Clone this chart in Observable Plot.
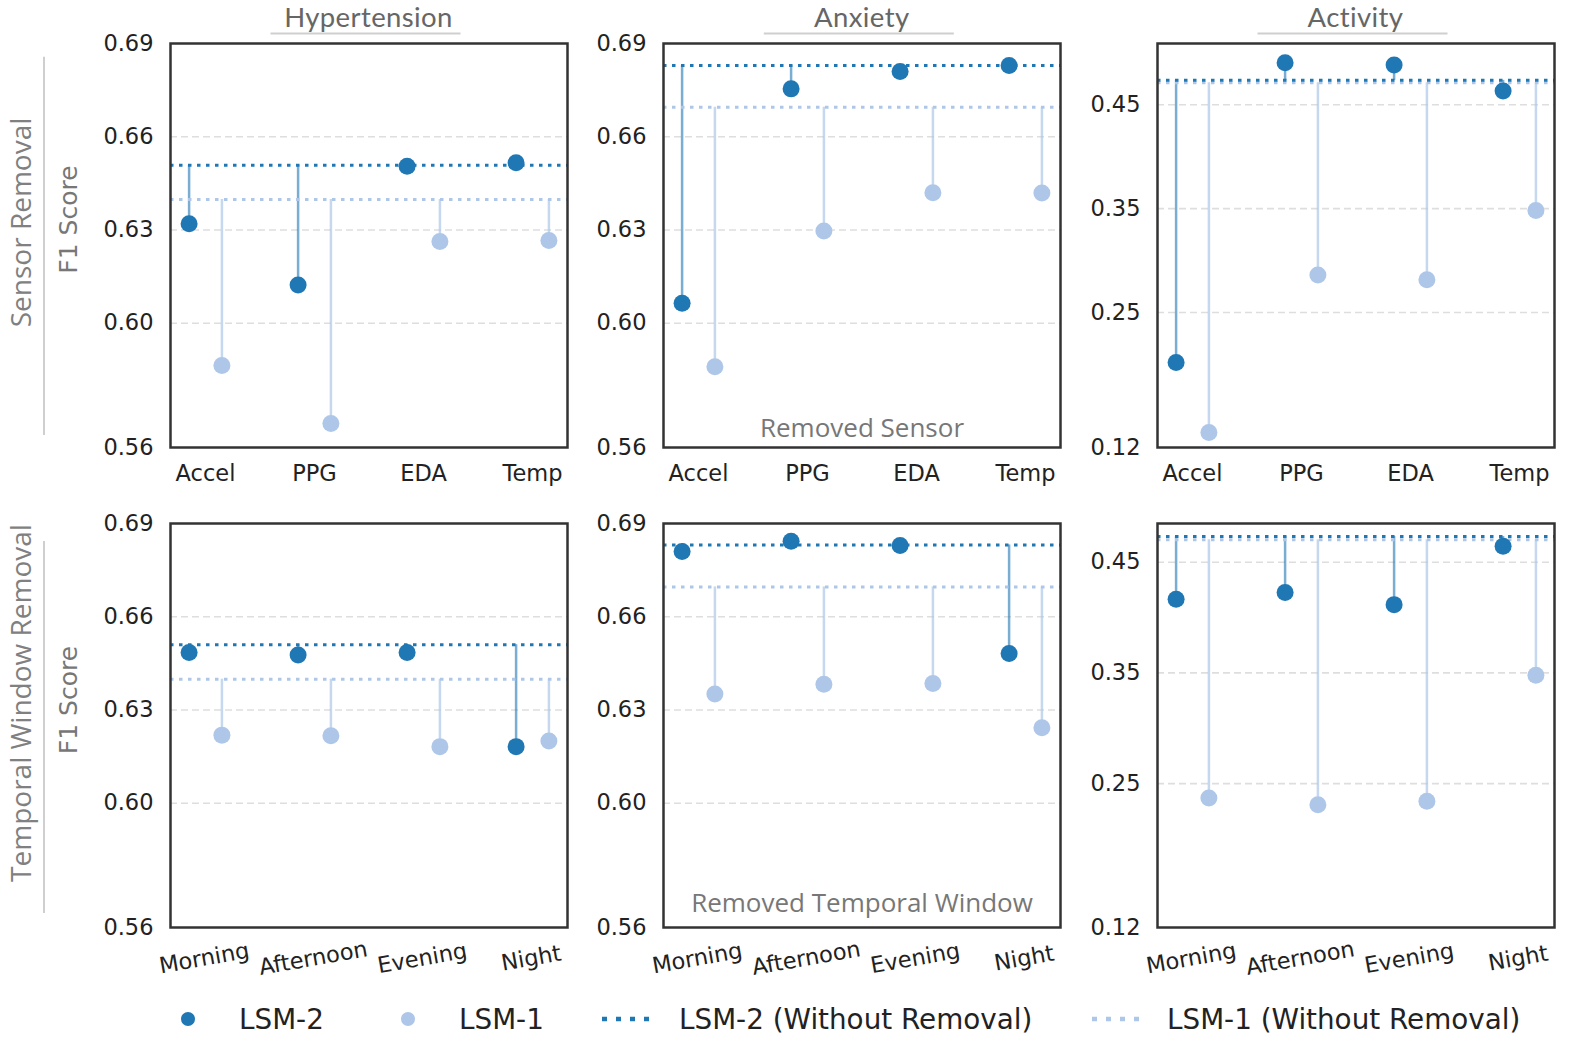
<!DOCTYPE html>
<html>
<head>
<meta charset="utf-8">
<script src="https://cdn.jsdelivr.net/npm/d3@7"></script>
<script src="https://cdn.jsdelivr.net/npm/@observablehq/plot@0.6"></script>
<style>
  html, body { margin: 0; padding: 0; background: #fff; }
  #root { position: relative; width: 1578px; height: 1059px; overflow: hidden; background: #fff; }
  .panel { position: absolute; }
  .panel svg { overflow: visible; }
  #overlay { position: absolute; left: 0; top: 0; }
</style>
</head>
<body>
<div id="root"></div>
<script>
// ---------- data ----------
const tasks = ["Hypertension", "Anxiety", "Activity"];
const sensors = ["Accel", "PPG", "EDA", "Temp"];
const windows = ["Morning", "Afternoon", "Evening", "Night"];

const f1TicksHA = [0.56, 0.60, 0.63, 0.66, 0.69];
const f1GridHA = [0.60, 0.63, 0.66];
const f1TicksAct = [0.12, 0.25, 0.35, 0.45];
const f1GridAct = [0.25, 0.35, 0.45];
const domainHA = [0.56, 0.69];
const domainActSensor = [0.12, 0.509];
const domainActWindow = [0.12, 0.485];

// Sensor removal
const htSensorLSM2 = [0.632, 0.6123, 0.6505, 0.6516];
const htSensorLSM1 = [0.5864, 0.5677, 0.6263, 0.6266];
const htSensorBase2 = 0.6508;
const htSensorBase1 = 0.6398;

const axSensorLSM2 = [0.6064, 0.6754, 0.681, 0.6829];
const axSensorLSM1 = [0.586, 0.6297, 0.642, 0.6419];
const axSensorBase2 = 0.6829;
const axSensorBase1 = 0.6695;

const acSensorLSM2 = [0.2019, 0.4905, 0.4883, 0.4632];
const acSensorLSM1 = [0.1345, 0.2861, 0.2816, 0.3482];
const acSensorBase2 = 0.4735;
const acSensorBase1 = 0.4712;

// Temporal window removal
const htWindowLSM2 = [0.6485, 0.6477, 0.6485, 0.6182];
const htWindowLSM1 = [0.6219, 0.6217, 0.6182, 0.62];
const htWindowBase2 = 0.651;
const htWindowBase1 = 0.6399;

const axWindowLSM2 = [0.681, 0.6843, 0.6829, 0.6482];
const axWindowLSM1 = [0.6351, 0.6383, 0.6385, 0.6243];
const axWindowBase2 = 0.6831;
const axWindowBase1 = 0.6696;

const acWindowLSM2 = [0.4166, 0.4226, 0.4117, 0.4645];
const acWindowLSM1 = [0.2369, 0.2309, 0.234, 0.3479];
const acWindowBase2 = 0.4732;
const acWindowBase1 = 0.4703;

const legendLabels = ["LSM-2", "LSM-1", "LSM-2 (Without Removal)", "LSM-1 (Without Removal)"];

// ---------- styling / layout ----------
const DARK = "#1f77b4", LIGHT = "#aec7e8";
const W = 397, H = 404;
const ML = 75, MR = 6, MT = 6, MB = 60;
const panelLefts = [170, 663.3, 1157];
const panelTops = [42.7, 522.7];
const DODGE = 16.4;

const root = document.getElementById("root");

function panel({cats, lsm2, lsm1, base2, base1, domain, ticks, grid, rotate, col, row}) {
  const rows = cats.map((c, i) => ({cat: c, lsm2: lsm2[i], lsm1: lsm1[i]}));
  const svg = Plot.plot({
    width: ML + W + MR,
    height: MT + H + MB,
    marginLeft: ML, marginRight: MR, marginTop: MT, marginBottom: MB,
    x: {type: "point", domain: cats, padding: 0.316, axis: null},
    y: {domain, axis: null},
    style: {fontFamily: "DejaVu Sans", background: "transparent", overflow: "visible"},
    marks: [
      Plot.gridY(grid, {stroke: "#dedede", strokeOpacity: 1, strokeWidth: 1.6, strokeDasharray: "7,4"}),
      Plot.ruleX(rows, {x: "cat", y1: () => base2, y2: "lsm2", dx: -DODGE, stroke: DARK, strokeOpacity: 0.6, strokeWidth: 2.5}),
      Plot.ruleX(rows, {x: "cat", y1: () => base1, y2: "lsm1", dx: DODGE, stroke: LIGHT, strokeOpacity: 0.7, strokeWidth: 2.5}),
      Plot.ruleY([base1], {stroke: LIGHT, strokeWidth: 3, strokeDasharray: "3.5,5.5"}),
      Plot.ruleY([base2], {stroke: DARK, strokeWidth: 3, strokeDasharray: "3.5,5.5"}),
      Plot.dot(rows, {x: "cat", y: "lsm1", dx: DODGE, r: 8.5, fill: LIGHT}),
      Plot.dot(rows, {x: "cat", y: "lsm2", dx: -DODGE, r: 8.5, fill: DARK}),
      Plot.axisY(ticks, {tickSize: 0, tickPadding: 17, tickFormat: d3.format(".2f"), fontSize: 22.5, color: "#222"}),
      Plot.text(cats, {x: d => d, frameAnchor: "bottom", dy: rotate ? 38 : 33, rotate: rotate || 0, fontSize: 22.5, fill: "#222"}),
      Plot.frame({stroke: "#333", strokeWidth: 2.5})
    ]
  });
  const div = document.createElement("div");
  div.className = "panel";
  div.style.left = (panelLefts[col] - ML) + "px";
  div.style.top = (panelTops[row] - MT) + "px";
  div.appendChild(svg);
  root.appendChild(div);
}

panel({cats: sensors, lsm2: htSensorLSM2, lsm1: htSensorLSM1, base2: htSensorBase2, base1: htSensorBase1, domain: domainHA, ticks: f1TicksHA, grid: f1GridHA, col: 0, row: 0});
panel({cats: sensors, lsm2: axSensorLSM2, lsm1: axSensorLSM1, base2: axSensorBase2, base1: axSensorBase1, domain: domainHA, ticks: f1TicksHA, grid: f1GridHA, col: 1, row: 0});
panel({cats: sensors, lsm2: acSensorLSM2, lsm1: acSensorLSM1, base2: acSensorBase2, base1: acSensorBase1, domain: domainActSensor, ticks: f1TicksAct, grid: f1GridAct, col: 2, row: 0});
panel({cats: windows, lsm2: htWindowLSM2, lsm1: htWindowLSM1, base2: htWindowBase2, base1: htWindowBase1, domain: domainHA, ticks: f1TicksHA, grid: f1GridHA, rotate: -10, col: 0, row: 1});
panel({cats: windows, lsm2: axWindowLSM2, lsm1: axWindowLSM1, base2: axWindowBase2, base1: axWindowBase1, domain: domainHA, ticks: f1TicksHA, grid: f1GridHA, rotate: -10, col: 1, row: 1});
panel({cats: windows, lsm2: acWindowLSM2, lsm1: acWindowLSM1, base2: acWindowBase2, base1: acWindowBase1, domain: domainActWindow, ticks: f1TicksAct, grid: f1GridAct, rotate: -10, col: 2, row: 1});

// ---------- annotations overlay ----------
const centers = panelLefts.map(l => l + W / 2);
const sans = "'Open Sans', 'Noto Sans', sans-serif";
let o = `<svg id="overlay" width="1578" height="1059" xmlns="http://www.w3.org/2000/svg">`;
tasks.forEach((t, i) => {
  o += `<text x="${centers[i]}" y="27" text-anchor="middle" font-family="Lato, 'Open Sans', sans-serif" font-size="27.5" letter-spacing="0.4" fill="#666">${t}</text>`;
  o += `<line x1="${centers[i] - 98}" x2="${centers[i] + 92}" y1="33.5" y2="33.5" stroke="#cfcfcf" stroke-width="2"/>`;
});
const rowNames = ["Sensor Removal", "Temporal Window Removal"];
const rowCenters = [222.5, 703];
const rowLines = [[56.7, 435], [541, 913]];
rowNames.forEach((r, i) => {
  o += `<text transform="translate(31,${rowCenters[i]}) rotate(-90)" text-anchor="middle" font-family="${sans}" font-size="28" fill="#808080">${r}</text>`;
  o += `<line x1="44" x2="44" y1="${rowLines[i][0]}" y2="${rowLines[i][1]}" stroke="#cfcfcf" stroke-width="2"/>`;
  o += `<text transform="translate(77,${rowCenters[i] - 3}) rotate(-90)" text-anchor="middle" font-family="DejaVu Sans" font-size="25" fill="#777">F1 Score</text>`;
});
o += `<text x="862" y="437" text-anchor="middle" font-family="${sans}" font-size="26" fill="#777">Removed Sensor</text>`;
o += `<text x="862" y="911.5" text-anchor="middle" font-family="${sans}" font-size="26" fill="#777">Removed Temporal Window</text>`;
// legend
const ly = 1019;
const lf = 27.8;
o += `<circle cx="188" cy="${ly}" r="7" fill="${DARK}"/>`;
o += `<text x="239" y="${ly + 10}" font-family="DejaVu Sans" font-size="${lf}" fill="#222">${legendLabels[0]}</text>`;
o += `<circle cx="408" cy="${ly}" r="7" fill="${LIGHT}"/>`;
o += `<text x="459" y="${ly + 10}" font-family="DejaVu Sans" font-size="${lf}" fill="#222">${legendLabels[1]}</text>`;
o += `<line x1="602" x2="658" y1="${ly}" y2="${ly}" stroke="${DARK}" stroke-width="4.5" stroke-dasharray="5,9"/>`;
o += `<text x="679" y="${ly + 10}" font-family="DejaVu Sans" font-size="${lf}" fill="#222">${legendLabels[2]}</text>`;
o += `<line x1="1092" x2="1148" y1="${ly}" y2="${ly}" stroke="${LIGHT}" stroke-width="4.5" stroke-dasharray="5,9"/>`;
o += `<text x="1167" y="${ly + 10}" font-family="DejaVu Sans" font-size="${lf}" fill="#222">${legendLabels[3]}</text>`;
o += `</svg>`;
root.insertAdjacentHTML("beforeend", o);
</script>
</body>
</html>
